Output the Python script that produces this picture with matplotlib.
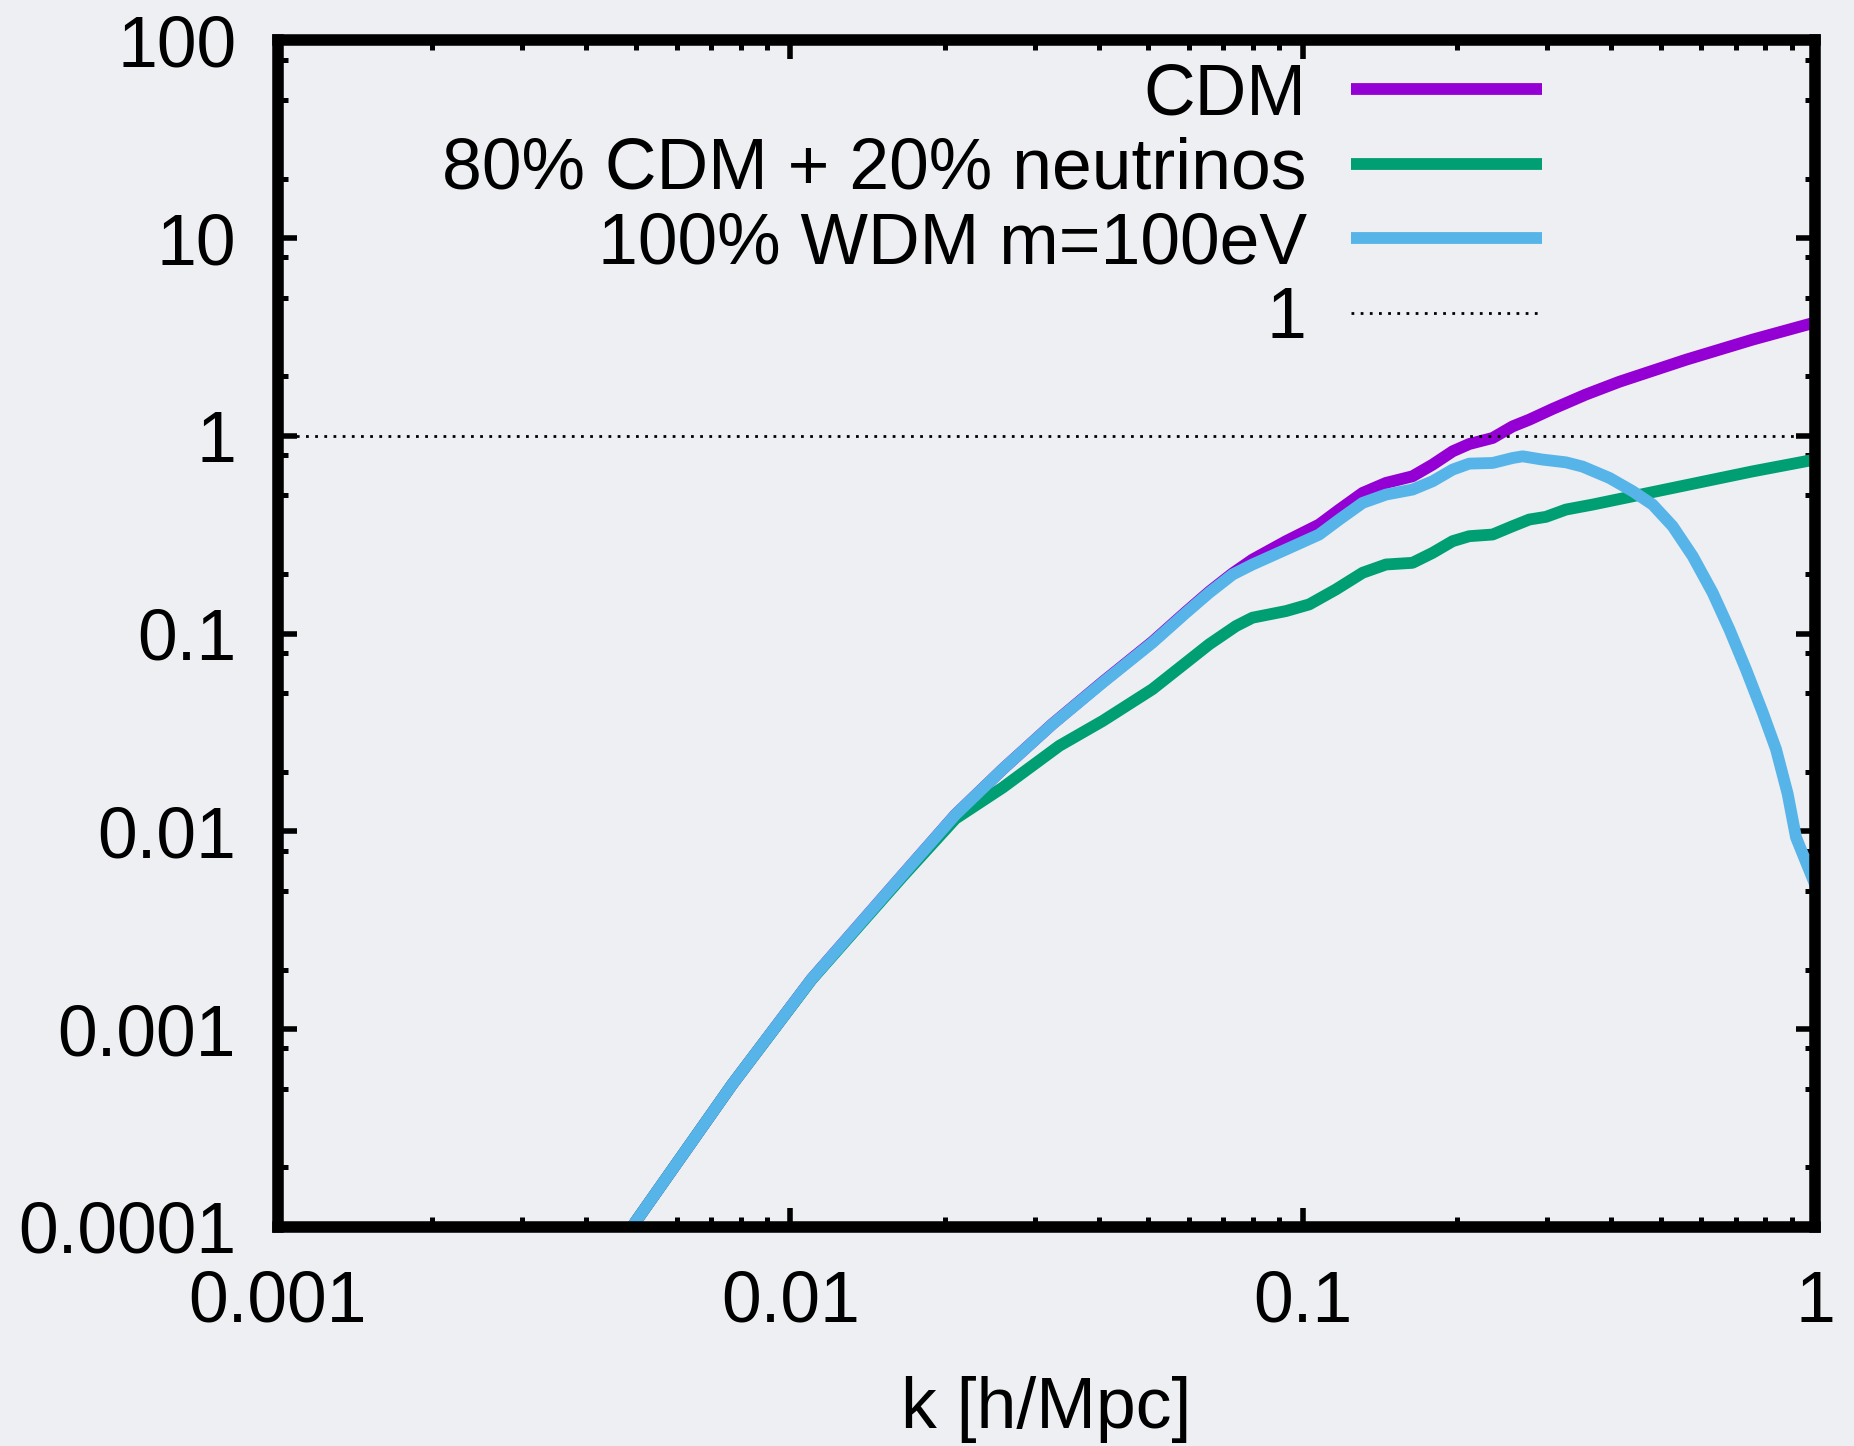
import matplotlib
matplotlib.use('Agg')
import matplotlib.pyplot as plt
from matplotlib.ticker import LogLocator, FixedLocator, FixedFormatter, NullFormatter

plt.rcParams['font.family'] = ['Liberation Sans', 'DejaVu Sans']

# ---- data ----
k_cdm = [0.0046, 0.0050, 0.0077, 0.0110, 0.0166, 0.0210, 0.0260, 0.0325, 0.0407,
         0.0509, 0.0592, 0.0657, 0.0730, 0.0798, 0.0928, 0.1077, 0.1179, 0.1309,
         0.1454, 0.1638, 0.1793, 0.1962, 0.2114, 0.2348, 0.2569, 0.2769, 0.3074,
         0.357, 0.415, 0.56, 0.755, 1.0]
p_cdm = [7.7e-5, 1.07e-4, 5.25e-4, 1.79e-3, 6.07e-3, 0.01215, 0.0207, 0.0350, 0.0570,
         0.0910, 0.1290, 0.1630, 0.2020, 0.2370, 0.2938, 0.3565, 0.4244, 0.5153,
         0.5789, 0.6253, 0.7163, 0.8364, 0.9107, 0.9767, 1.118, 1.209, 1.37,
         1.62, 1.88, 2.43, 3.07, 3.75]

k_mix = [0.0046, 0.0050, 0.0077, 0.0110, 0.0166, 0.0210, 0.0260, 0.0335, 0.0407,
         0.0509, 0.0592, 0.0657, 0.0741, 0.0798, 0.0928, 0.1030, 0.1161, 0.1309,
         0.1454, 0.1638, 0.1793, 0.1962, 0.2114, 0.2348, 0.2569, 0.2769, 0.2984,
         0.3264, 0.3680, 0.4406, 0.56, 0.755, 1.0]
p_mix = [7.7e-5, 1.07e-4, 5.25e-4, 1.78e-3, 5.95e-3, 0.0116, 0.0167, 0.0271, 0.0362,
         0.0524, 0.0714, 0.0884, 0.1093, 0.1205, 0.1302, 0.1407, 0.1674, 0.2033,
         0.2239, 0.2283, 0.2564, 0.2938, 0.3113, 0.3174, 0.3498, 0.3780, 0.3899,
         0.4244, 0.4498, 0.4955, 0.5637, 0.662, 0.76]

k_wdm = [0.0046, 0.0050, 0.0077, 0.0110, 0.0166, 0.0210, 0.0260, 0.0325, 0.0407,
         0.0509, 0.0592, 0.0657, 0.0730, 0.0798, 0.0928, 0.1077, 0.1179, 0.1309,
         0.1454, 0.1638, 0.1793, 0.1962, 0.2114, 0.2348, 0.2569, 0.2687, 0.2939,
         0.3264, 0.3518, 0.3968, 0.4406, 0.4819, 0.5272, 0.577, 0.6311, 0.6804,
         0.7329, 0.7903, 0.839, 0.8841, 0.9179, 1.0]
p_wdm = [7.7e-5, 1.07e-4, 5.25e-4, 1.79e-3, 6.07e-3, 0.01215, 0.0207, 0.0349, 0.0566,
         0.0901, 0.1277, 0.1611, 0.1993, 0.2239, 0.2667, 0.3174, 0.3780, 0.4587,
         0.5054, 0.5356, 0.5902, 0.6760, 0.7247, 0.7303, 0.7738, 0.7890, 0.7595,
         0.7357, 0.700, 0.6136, 0.5253, 0.4498, 0.3497, 0.2466, 0.1612, 0.1052,
         0.0661, 0.03995, 0.02606, 0.0155, 0.00934, 0.0054]

ref_level = 1.0

labels = ['CDM', '80% CDM + 20% neutrinos', '100% WDM m=100eV', '1']
colors = ['#9400d3', '#009e73', '#56b4e9', 'black']

xticks = [0.001, 0.01, 0.1, 1]
xtick_labels = ['0.001', '0.01', '0.1', '1']
yticks = [1e-4, 1e-3, 1e-2, 1e-1, 1, 10, 100]
ytick_labels = ['0.0001', '0.001', '0.01', '0.1', '1', '10', '100']
xlabel = 'k [h/Mpc]'

# ---- figure ----
bg = '#edeff2'
fs = 51.5
fig = plt.figure(figsize=(18.54, 14.46), dpi=100, facecolor=bg)
ax = fig.add_axes([0.1499, 0.1515, 0.979 - 0.1499, 0.972 - 0.1515])
ax.set_facecolor(bg)
ax.set_xscale('log')
ax.set_yscale('log')
ax.set_xlim(1e-3, 1)
ax.set_ylim(1e-4, 100)

lw = 8.5
ax.plot(k_cdm, p_cdm, color=colors[0], lw=lw, label=labels[0], solid_joinstyle='round')
ax.plot(k_mix, p_mix, color=colors[1], lw=lw, label=labels[1], solid_joinstyle='round')
ax.plot(k_wdm, p_wdm, color=colors[2], lw=lw, label=labels[2], solid_joinstyle='round')
ax.axhline(ref_level, color=colors[3], lw=2.0, ls=(0, (1, 2.3)), label=labels[3])

ax.xaxis.set_major_locator(FixedLocator(xticks))
ax.xaxis.set_major_formatter(FixedFormatter(xtick_labels))
ax.xaxis.set_minor_locator(LogLocator(base=10, subs=(2, 3, 4, 5, 6, 7, 8, 9), numticks=20))
ax.xaxis.set_minor_formatter(NullFormatter())
ax.yaxis.set_major_locator(FixedLocator(yticks))
ax.yaxis.set_major_formatter(FixedFormatter(ytick_labels))
ax.yaxis.set_minor_locator(LogLocator(base=10, subs=(2, 5, 8), numticks=20))
ax.yaxis.set_minor_formatter(NullFormatter())

for s in ax.spines.values():
    s.set_linewidth(8.3)
    s.set_color('black')

ax.tick_params(which='major', direction='in', length=13.5, width=4, top=True, right=True,
               labelsize=fs, colors='black')
ax.tick_params(which='minor', direction='in', length=7, width=3.6, top=True, right=True)
ax.tick_params(axis='y', which='major', pad=30)
ax.tick_params(axis='x', which='major', pad=31)

ax.set_xlabel(xlabel, fontsize=fs, labelpad=28)

leg = ax.legend(loc='upper right', bbox_to_anchor=(0.8224, 0.9815), frameon=False,
                markerfirst=False, fontsize=fs, handlelength=2.67, handletextpad=0.62,
                labelspacing=0.104, borderpad=0, borderaxespad=0)
for line in leg.get_lines():
    line.set_solid_capstyle('butt')

fig.savefig('out.png', dpi=100, facecolor=bg)
